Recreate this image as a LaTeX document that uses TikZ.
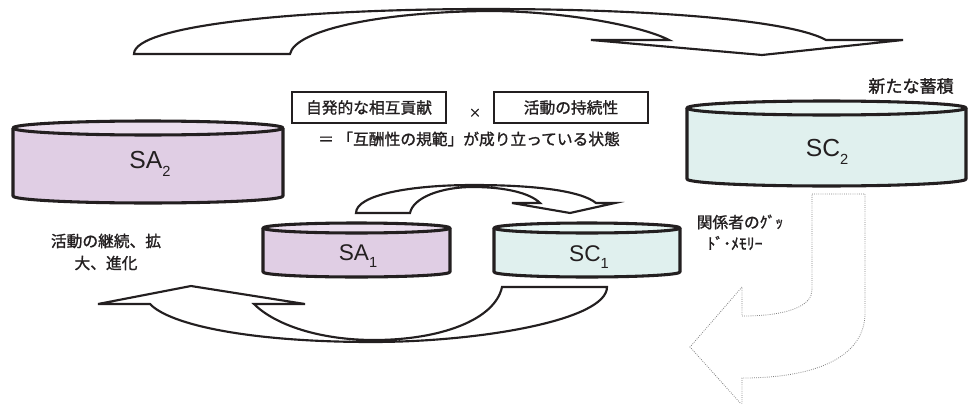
\documentclass[tikz,border=0pt]{standalone}
\usepackage{fontspec}
\setmainfont{Liberation Sans}
\newfontfamily\jp[FakeBold=1.3]{Noto Sans CJK JP}
\definecolor{sacol}{RGB}{224,206,228}
\definecolor{satop}{RGB}{235,222,238}
\definecolor{sccol}{RGB}{224,240,238}
\definecolor{sctop}{RGB}{233,246,244}
\definecolor{ink}{RGB}{35,31,32}
\newcommand\drawcyl[7]{%
  \pgfmathsetmacro\cylcx{(#1+#2)/2}%
  \pgfmathsetmacro\cylrx{(#2-#1)/2}%
  \fill[#6] (#1,#3) -- (#1,#4) arc[start angle=180,end angle=0,x radius=\cylrx,y radius=#5] -- (#2,#3) -- cycle;
  \draw[cylline] (#1,#3) -- (#1,#4) arc[start angle=180,end angle=0,x radius=\cylrx,y radius=#5] -- (#2,#3);
  \filldraw[cylline,fill=#7] (\cylcx,#3) ellipse[x radius=\cylrx,y radius=#5];
}
\newcommand\lowsub[1]{\raisebox{-0.32em}{\fontsize{11}{12}\selectfont #1}}
\begin{document}
\begin{tikzpicture}[x=0.75pt,y=-0.75pt,
  cylline/.style={draw=ink,line width=2.3pt,line join=round},
  blockarrow/.style={draw=ink,line width=1.6pt,line join=miter},
  dotarrow/.style={draw=gray,line width=0.6pt,densely dotted},
  jptext/.style={font=\jp\fontsize{11.8}{14}\selectfont,text=ink,inner sep=0pt},
  biglabel/.style={font=\fontsize{18.5}{20}\selectfont,text=ink,inner sep=0pt},
  smalllabel/.style={font=\fontsize{17}{19}\selectfont,text=ink,inner sep=0pt},
  framebox/.style={draw=ink,line width=1.6pt,minimum width=154*0.75pt,minimum height=31*0.75pt,inner sep=0pt}]
\useasboundingbox (0,0) rectangle (969,403);
\clip (0,0) rectangle (969,403);
\fill[white] (0,0) rectangle (969,403);

% top arrow
\draw[blockarrow] (134,54) .. controls (134,25) and (300,9) .. (488,9)
  .. controls (650,9) and (790,20) .. (826,40) -- (903,40) -- (762,55) -- (591,40) -- (669,40)
  .. controls (640,25) and (560,11) .. (488,11)
  .. controls (380,12) and (295,30) .. (290,54) -- cycle;

% cylinders
\drawcyl{13}{283}{128}{196}{7}{sacol}{satop}
\drawcyl{687}{966}{108}{179}{7}{sccol}{sctop}
\drawcyl{263}{450}{228}{272}{5}{sacol}{satop}
\drawcyl{494}{680}{228}{272}{5}{sccol}{sctop}

\node[biglabel] (sa2) at (150,164) {SA\lowsub{2}};
\node[biglabel] (sc2) at (827,152) {SC\lowsub{2}};
\node[smalllabel] (sa1) at (358,256) {SA\lowsub{1}};
\node[smalllabel] (sc1) at (589,257) {SC\lowsub{1}};

% small arrow
\draw[blockarrow] (356,213) .. controls (356,195) and (410,185) .. (473,185)
  .. controls (530,185) and (580,190) .. (596,203) -- (615,203) -- (570,213) -- (512,203) -- (540,203)
  .. controls (530,193) and (505,187) .. (473,187)
  .. controls (440,187) and (413,198) .. (410,213) -- cycle;

% bottom arrow
\draw[blockarrow] (502,287) -- (607,287)
  .. controls (607,320) and (480,342) .. (372,342)
  .. controls (250,342) and (170,325) .. (150,304) -- (98,304) -- (191,286) -- (305,304) -- (254,304)
  .. controls (275,325) and (320,340) .. (374,340)
  .. controls (440,340) and (495,320) .. (502,287) -- cycle;

% dotted arrow
\draw[dotarrow] (812,194) -- (865,194) -- (865,313)
  .. controls (865,355) and (820,378) .. (742,378) -- (742,405) -- (690,347) -- (742,287) -- (742,316)
  .. controls (790,316) and (812,305) .. (812,290) -- cycle;

% boxes and texts
\node[framebox,jptext] (b1) at (369,107.5) {自発的な相互貢献};
\node[framebox,jptext] (b2) at (571,107.5) {活動の持続性};
\node[jptext,font=\jp\fontsize{9}{10}\selectfont] (times) at (475,113) {×};
\node[jptext] (eq) at (469,139) {＝\ 「互酬性の規範」が成り立っている状態};
\node[jptext,font=\jp\fontsize{12.8}{14}\selectfont] (new) at (911,86) {新たな蓄積};
\node[jptext] (cont1) at (106,241) {活動の継続、拡};
\node[jptext] (cont2) at (106,263) {大、進化};
\node[jptext] (gm1) at (740,222) {関係者のｸﾞｯ};
\node[jptext] (gm2) at (735,243) {ﾄﾞ･ﾒﾓﾘｰ};
\end{tikzpicture}
\end{document}
